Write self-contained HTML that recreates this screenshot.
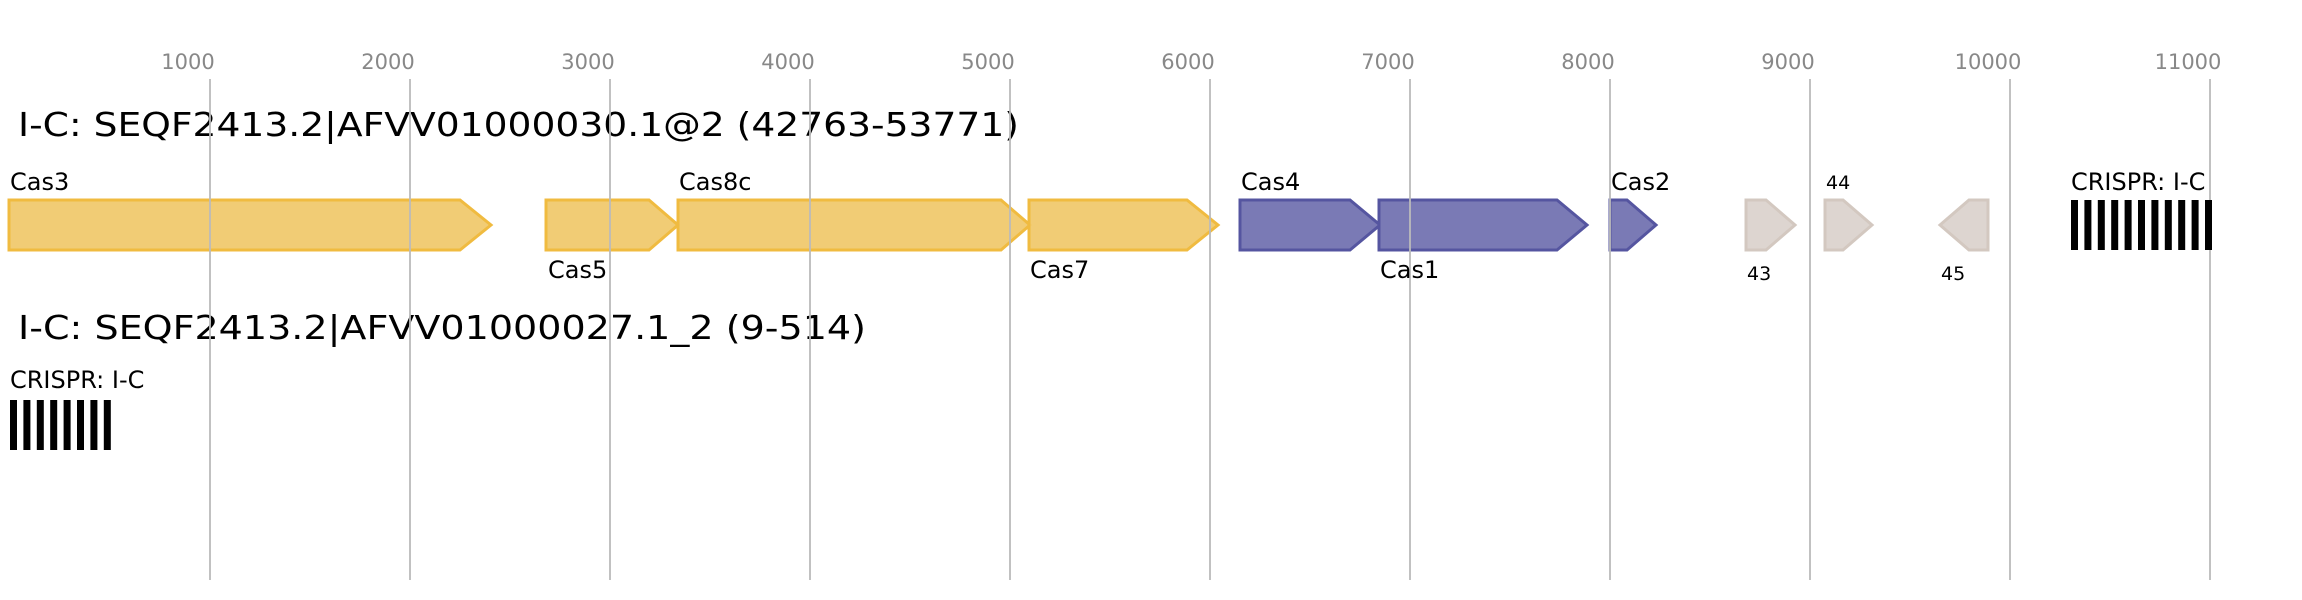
<!DOCTYPE html>
<html><head><meta charset="utf-8"><style>html,body{margin:0;padding:0;background:#fff}svg{display:block}</style></head>
<body>
<svg width="2302" height="600" xmlns="http://www.w3.org/2000/svg" font-family="DejaVu Sans, Liberation Sans, sans-serif">
<g fill="#888" font-size="21" text-anchor="middle">
<text x="188" y="69">1000</text><text x="388" y="69">2000</text><text x="588" y="69">3000</text><text x="788" y="69">4000</text><text x="988" y="69">5000</text><text x="1188" y="69">6000</text><text x="1388" y="69">7000</text><text x="1588" y="69">8000</text><text x="1788" y="69">9000</text><text x="1988" y="69">10000</text><text x="2188" y="69">11000</text>
</g>
<text x="18" y="136" font-size="33" textLength="1001" lengthAdjust="spacingAndGlyphs">I-C: SEQF2413.2|AFVV01000030.1@2 (42763-53771)</text>
<text x="18" y="339" font-size="33" textLength="848" lengthAdjust="spacingAndGlyphs">I-C: SEQF2413.2|AFVV01000027.1_2 (9-514)</text>
<g stroke-width="3" stroke-linejoin="miter">
<g fill="#f0c96e" stroke="#f0bb40" fill-opacity="0.95">
<polygon points="9,200 460,200 491,225 460,250 9,250"/>
<polygon points="546,200 649,200 678,225 649,250 546,250"/>
<polygon points="678,200 1001,200 1030,225 1001,250 678,250"/>
<polygon points="1029,200 1187,200 1218,225 1187,250 1029,250"/>
</g>
<g fill="#7a7ab5" stroke="#5555a0">
<polygon points="1240,200 1350,200 1380,225 1350,250 1240,250"/>
<polygon points="1379,200 1557,200 1587,225 1557,250 1379,250"/>
<polygon points="1610,200 1627,200 1656,225 1627,250 1610,250"/>
</g>
<g fill="#ddd5d0" stroke="#d3c8c0">
<polygon points="1746,200 1766,200 1795,225 1766,250 1746,250"/>
<polygon points="1825,200 1843,200 1872,225 1843,250 1825,250"/>
<polygon points="1940,225 1969,200 1988,200 1988,250 1969,250"/>
</g>
</g>
<g stroke="#bbb" stroke-width="2" opacity="0.9">
<line x1="210" y1="79" x2="210" y2="580"/><line x1="410" y1="79" x2="410" y2="580"/><line x1="610" y1="79" x2="610" y2="580"/><line x1="810" y1="79" x2="810" y2="580"/><line x1="1010" y1="79" x2="1010" y2="580"/><line x1="1210" y1="79" x2="1210" y2="580"/><line x1="1410" y1="79" x2="1410" y2="580"/><line x1="1610" y1="79" x2="1610" y2="580"/><line x1="1810" y1="79" x2="1810" y2="580"/><line x1="2010" y1="79" x2="2010" y2="580"/><line x1="2210" y1="79" x2="2210" y2="580"/>
</g>
<g font-size="24" fill="#000">
<text x="10" y="190">Cas3</text>
<text x="548" y="278">Cas5</text>
<text x="679" y="190">Cas8c</text>
<text x="1030" y="278">Cas7</text>
<text x="1241" y="190">Cas4</text>
<text x="1380" y="278">Cas1</text>
<text x="1611" y="190">Cas2</text>
<text x="2071" y="190">CRISPR: I-C</text>
<text x="10" y="388">CRISPR: I-C</text>
</g>
<g font-size="19" fill="#000">
<text x="1747" y="280">43</text>
<text x="1826" y="189">44</text>
<text x="1941" y="280">45</text>
</g>
<g fill="#000">
<rect x="2071" y="200" width="7" height="50"/><rect x="2084.4" y="200" width="7" height="50"/><rect x="2097.8" y="200" width="7" height="50"/><rect x="2111.2" y="200" width="7" height="50"/><rect x="2124.6" y="200" width="7" height="50"/><rect x="2138" y="200" width="7" height="50"/><rect x="2151.4" y="200" width="7" height="50"/><rect x="2164.8" y="200" width="7" height="50"/><rect x="2178.2" y="200" width="7" height="50"/><rect x="2191.6" y="200" width="7" height="50"/><rect x="2205" y="200" width="7" height="50"/>
<rect x="10" y="400" width="7" height="50"/><rect x="23.4" y="400" width="7" height="50"/><rect x="36.8" y="400" width="7" height="50"/><rect x="50.2" y="400" width="7" height="50"/><rect x="63.6" y="400" width="7" height="50"/><rect x="77" y="400" width="7" height="50"/><rect x="90.4" y="400" width="7" height="50"/><rect x="103.8" y="400" width="7" height="50"/>
</g>
</svg>
</body></html>
